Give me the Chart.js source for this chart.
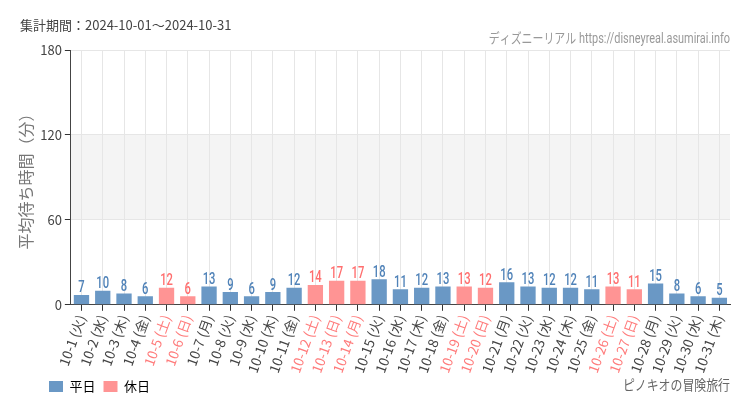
<!DOCTYPE html>
<html><head><meta charset="utf-8">
<script src="https://cdn.jsdelivr.net/npm/chart.js@4/dist/chart.umd.min.js"></script>
<style>html,body{margin:0;padding:0;background:#fff;}canvas{display:block;}</style>
</head><body>
<canvas id="c" width="750" height="410"></canvas>
<script>
const categories = ["10-1 (火)","10-2 (水)","10-3 (木)","10-4 (金)","10-5 (土)","10-6 (日)","10-7 (月)","10-8 (火)","10-9 (水)","10-10 (木)","10-11 (金)","10-12 (土)","10-13 (日)","10-14 (月)","10-15 (火)","10-16 (水)","10-17 (木)","10-18 (金)","10-19 (土)","10-20 (日)","10-21 (月)","10-22 (火)","10-23 (水)","10-24 (木)","10-25 (金)","10-26 (土)","10-27 (日)","10-28 (月)","10-29 (火)","10-30 (水)","10-31 (木)"];
const waitValues = [7,10,8,6,12,6,13,9,6,9,12,14,17,17,18,11,12,13,13,12,16,13,12,12,11,13,11,15,8,6,5];
const holidayFlags = [0,0,0,0,1,1,0,0,0,0,0,1,1,1,0,0,0,0,1,1,0,0,0,0,0,1,1,0,0,0,0];
const yTicks = [0,60,120,180];

const BLUE='#6a98c5', PINK='#ff9494', BLUE_T='#4f82b8', PINK_T='#ff6e6e';
const JP="'Noto Sans CJK JP','Noto Sans',sans-serif";

function narrowText(ctx,txt,x,y,sx,align){
  ctx.save();
  const w=ctx.measureText(txt).width*sx;
  let left=x; if(align==='center')left=x-w/2; else if(align==='right')left=x-w;
  ctx.translate(left,y);ctx.scale(sx,1);ctx.textAlign='left';
  ctx.fillText(txt,0,0);ctx.restore();
}

const bandPlugin={id:'band',beforeDraw(chart){
  const {ctx,chartArea:a,scales:{y}}=chart;
  ctx.save();ctx.fillStyle='#f4f4f4';
  const t=y.getPixelForValue(120),b=y.getPixelForValue(60);
  ctx.fillRect(a.left,t,a.right-a.left,b-t);ctx.restore();
},afterLayout(chart){
  const l=chart.legend; if(l){l.left+=27;l.right+=27;l.top-=5;l.bottom-=5;}
}};
const textPlugin={id:'txt',afterDraw(chart){
  const ctx=chart.ctx;ctx.save();
  ctx.fillStyle='#444';ctx.font='13px '+JP;ctx.textBaseline='alphabetic';ctx.textAlign='left';
  ctx.fillText('集計期間：2024-10-01～2024-10-31',20,30);
  ctx.fillStyle='#999';ctx.font='14px Roboto,'+JP;
  narrowText(ctx,'ディズニーリアル https://disneyreal.asumirai.info',730,43,0.78,'right');
  ctx.fillStyle='#666';ctx.font='14px '+JP;
  narrowText(ctx,'ピノキオの冒険旅行',730,390,0.85,'right');
  const meta=chart.getDatasetMeta(0);
  ctx.font='500 17px Roboto,sans-serif';
  meta.data.forEach((el,i)=>{
    ctx.fillStyle=holidayFlags[i]?PINK_T:BLUE_T;
    narrowText(ctx,String(waitValues[i]),el.x,el.y-2.5,0.66,'center');
  });
  ctx.restore();
}};

new Chart(document.getElementById('c'),{
  type:'bar',
  data:{labels:categories,datasets:[{data:waitValues,
    backgroundColor:holidayFlags.map(h=>h?PINK:BLUE),
    barPercentage:0.72,categoryPercentage:1}]},
  options:{responsive:false,animation:false,
    layout:{padding:{left:14,right:20,top:50,bottom:2}},
    plugins:{tooltip:{enabled:false},
      legend:{position:'bottom',align:'start',
        labels:{boxWidth:14,boxHeight:11,font:{size:13,family:JP},color:'#444',padding:8,
          generateLabels:()=>[{text:'平日',fillStyle:BLUE,strokeStyle:BLUE,lineWidth:0},{text:'休日',fillStyle:PINK,strokeStyle:PINK,lineWidth:0}]}}},
    scales:{
      x:{grid:{offset:false,color:'#e6e6e6',tickLength:6,tickColor:'#333'},
        border:{color:'#444'},
        ticks:{autoSkip:false,maxRotation:70,minRotation:70,padding:2,
          font:{size:13.5,family:JP},
          color:(c)=>holidayFlags[c.index]?'#ff7b7b':'#444'}},
      y:{min:0,max:180,afterBuildTicks:(s)=>{s.ticks=yTicks.map(v=>({value:v}));},
        grid:{color:'#e6e6e6',tickLength:6,tickColor:'#333'},border:{color:'#444'},
        ticks:{font:{size:13,family:JP},color:'#444',padding:3},
        title:{display:true,text:'平均待ち時間（分）',color:'#777',font:{size:16,family:JP},padding:2}}
    }},
  plugins:[bandPlugin,textPlugin]
});
</script></body></html>
